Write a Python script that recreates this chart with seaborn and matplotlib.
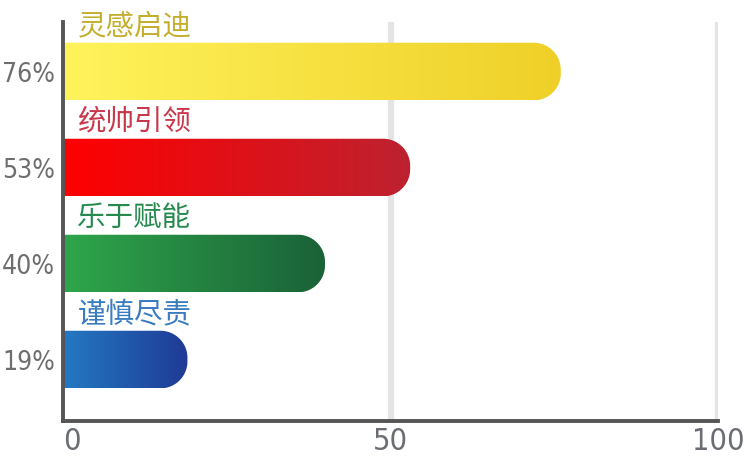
import numpy as np
import pandas as pd
import matplotlib
matplotlib.use("Agg")
import matplotlib.pyplot as plt
from matplotlib.colors import LinearSegmentedColormap
from matplotlib.patches import Polygon
import seaborn as sns

# Chart data
categories = ["灵感启迪", "统帅引领", "乐于赋能", "谨慎尽责"]
values = [76, 53, 40, 19]
tick_labels = ["76%", "53%", "40%", "19%"]
x_ticks = [0, 50, 100]

# Styling
grad_start = ["#fff35c", "#ff0000", "#2fa64b", "#2479c3"]
grad_end = ["#efd028", "#bd2230", "#1a6238", "#1f3a95"]
label_colors = ["#c4ae2e", "#c8374a", "#268a4e", "#3a7cc0"]

sns.set_theme(style="white")
plt.rcParams["font.family"] = ["Noto Sans CJK SC", "DejaVu Sans"]

W, H = 744, 461
fig = plt.figure(figsize=(W / 100, H / 100), dpi=100)
left_px, right_px, top_px, bottom_px = 63, 718, 22, 421
ax = fig.add_axes([left_px / W, (H - bottom_px) / H,
                   (right_px - left_px) / W, (bottom_px - top_px) / H])

df = pd.DataFrame({"cat": categories, "val": values})
sns.barplot(data=df, x="val", y="cat", orient="h", width=0.6,
            order=categories, ax=ax, color="white", saturation=1)

ylim = (3.64, -0.516)
ax.set_xlim(0, 100)
ax.set_ylim(*ylim)

# pixel scale for rounding the bar ends
sx = (right_px - left_px) / 100.0
sy = (bottom_px - top_px) / abs(ylim[0] - ylim[1])
r_px = 27
rx, ry = r_px / sx, r_px / sy

bars = list(ax.patches)
for i, bar in enumerate(bars):
    x0 = bar.get_x()
    w = bar.get_width()
    y0 = bar.get_y()
    h = bar.get_height()
    x1 = x0 + w
    ya, yb = min(y0, y0 + h), max(y0, y0 + h)
    bar.set_visible(False)
    # outline: square left end, rounded right corners
    t = np.linspace(0, np.pi / 2, 30)
    pts = [(x0, ya)]
    cx, cy = x1 - rx, ya + ry
    pts += [(cx + rx * np.sin(a), cy - ry * np.cos(a)) for a in t]
    cx, cy = x1 - rx, yb - ry
    pts += [(cx + rx * np.cos(a), cy + ry * np.sin(a)) for a in t]
    pts += [(x0, yb)]
    poly = Polygon(pts, closed=True, facecolor="none", edgecolor="none",
                   transform=ax.transData)
    ax.add_patch(poly)
    cmap = LinearSegmentedColormap.from_list(f"g{i}", [grad_start[i], grad_end[i]])
    grad = np.linspace(0, 1, 256).reshape(1, -1)
    im = ax.imshow(grad, cmap=cmap, extent=[x0, x1, yb, ya], aspect="auto",
                   interpolation="bicubic", zorder=3)
    im.set_clip_path(poly)
    # category label above the bar
    ax.text(2.2, (ya + yb) / 2 - 0.475, categories[i], color=label_colors[i],
            fontsize=20.5, va="center", ha="left", zorder=4,
            family=["Noto Sans CJK SC", "DejaVu Sans"])

ax.set_xlim(0, 100)
ax.set_ylim(*ylim)

# vertical grid lines
for gx in [50, 100]:
    ax.axvline(gx, color="#e4e4e4", lw=4.5, zorder=0)

ax.set_xticks(x_ticks)
ax.set_xticklabels([str(v) for v in x_ticks], fontsize=22, color="#6a6e74",
                   family="DejaVu Sans", fontstretch="condensed")
ax.set_yticks(range(len(categories)))
ax.set_yticklabels(tick_labels, fontsize=19, color="#6e6e6e",
                   family="DejaVu Sans", fontstretch="condensed")
ax.tick_params(axis="x", length=0, pad=4)
ax.tick_params(axis="y", length=0, pad=6)
ax.get_xticklabels()[0].set_ha("left")
ax.set_xlabel("")
ax.set_ylabel("")

for s in ["top", "right"]:
    ax.spines[s].set_visible(False)
for s in ["left", "bottom"]:
    ax.spines[s].set_color("#555555")
    ax.spines[s].set_linewidth(2.8)
    ax.spines[s].set_zorder(5)

fig.savefig("out.png", dpi=100)
